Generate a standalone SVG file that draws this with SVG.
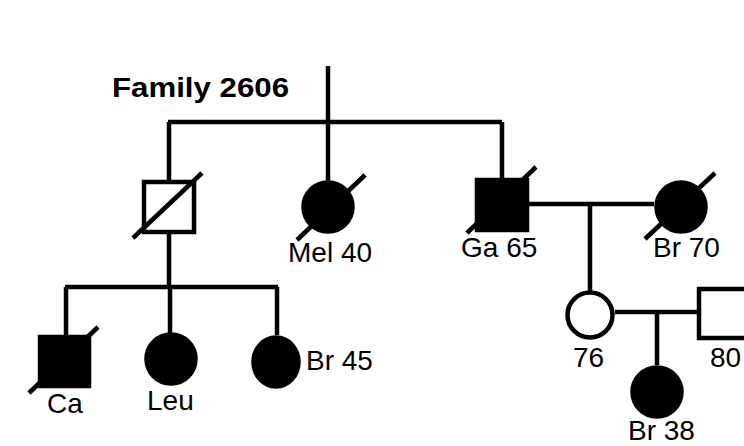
<svg xmlns="http://www.w3.org/2000/svg" width="744" height="446" viewBox="0 0 744 446">
<style>
.ln{stroke:#000;stroke-width:4.5;fill:none}
.fill{fill:#000;stroke:#000;stroke-width:4.5}
.open{fill:#fff;stroke:#000;stroke-width:4.5}
.sl{stroke:#000;stroke-width:4.5}
.lbl{font-family:"Liberation Sans",Arial,sans-serif;font-size:28px;fill:#000}
.ttl{font-family:"Liberation Sans",Arial,sans-serif;font-size:28.5px;font-weight:bold;fill:#000}
</style>
<rect width="744" height="446" fill="#fff"/>
<text class="ttl" x="112" y="97" textLength="177" lengthAdjust="spacingAndGlyphs">Family 2606</text>
<g id="connectors">
<path class="ln" d="M328,66V122M168,122H502M169,122V182M328,122V181M502,122V179"/>
<path class="ln" d="M169,232V287M65,287H278M66,287V336M170,287V333M277,287V335"/>
<path class="ln" d="M528,204H654M590,204V291M615,312H698M657,312V365"/>
</g>
<g id="n-gen2-male">
<rect class="open" x="144" y="182" width="50" height="50"/>
<line class="sl" x1="133" y1="238" x2="202" y2="173"/>
</g>
<g id="n-mel">
<circle class="fill" cx="328" cy="207" r="24.5"/>
<line class="sl" x1="297" y1="240" x2="365" y2="175"/>
<text class="lbl" x="288" y="262">Mel 40</text>
</g>
<g id="n-ga">
<line class="sl" x1="467" y1="233" x2="536" y2="167"/>
<rect class="fill" x="477" y="180" width="50" height="50"/>
<text class="lbl" x="461" y="257">Ga 65</text>
</g>
<g id="n-br70">
<circle class="fill" cx="681" cy="207" r="24.5"/>
<line class="sl" x1="645" y1="239" x2="715" y2="173"/>
<text class="lbl" x="653" y="257">Br 70</text>
</g>
<g id="n-76">
<circle class="open" cx="590" cy="315" r="22.5"/>
<text class="lbl" x="573" y="367">76</text>
</g>
<g id="n-80">
<rect class="open" x="699" y="289" width="50" height="49"/>
<text class="lbl" x="710" y="367">80</text>
</g>
<g id="n-br38">
<circle class="fill" cx="657" cy="392" r="24.5"/>
<text class="lbl" x="628" y="440">Br 38</text>
</g>
<g id="n-ca">
<line class="sl" x1="29" y1="393" x2="98" y2="327"/>
<rect class="fill" x="40" y="337" width="49" height="49"/>
<text class="lbl" x="47" y="413">Ca</text>
</g>
<g id="n-leu">
<circle class="fill" cx="171" cy="359" r="24.5"/>
<text class="lbl" x="147" y="410">Leu</text>
</g>
<g id="n-br45">
<ellipse class="fill" cx="276" cy="362" rx="22.5" ry="24.5"/>
<text class="lbl" x="306" y="370">Br 45</text>
</g>
</svg>
